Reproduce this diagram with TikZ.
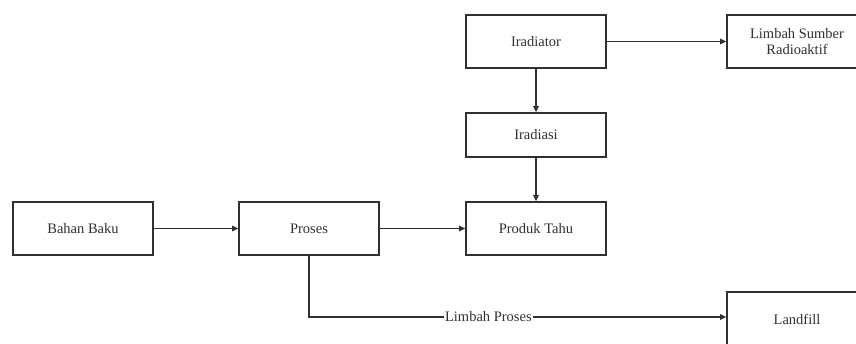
\documentclass[tikz,border=0pt]{standalone}
\usepackage{fontspec}
\setmainfont{Liberation Serif}
\usetikzlibrary{arrows.meta}
\definecolor{ink}{HTML}{303030}
\begin{document}
\begin{tikzpicture}[x=1pt,y=-1pt,
  box/.style={draw=ink,line width=1.7pt,minimum width=140pt,minimum height=53pt,inner sep=2pt,align=center,font=\fontsize{14.5}{15.5}\selectfont,text=ink},
  conn/.style={draw=ink,line width=1.5pt,-{Triangle[length=6pt,width=5.5pt]}}]
\clip (0,0) rectangle (856,343);
\fill[white] (0,0) rectangle (856,343);
\node[box] (irad) at (536,41.5) {Iradiator};
\node[box] (lsr) at (797,41.5) {Limbah Sumber\\Radioaktif};
\node[box,minimum height=44pt] (iras) at (536,135) {Iradiasi};
\node[box] (bahan) at (83,228.5) {Bahan Baku};
\node[box] (proses) at (309,228.5) {Proses};
\node[box] (produk) at (536,228.5) {Produk Tahu};
\node[box,minimum height=56pt,anchor=north] (land) at (797,291) {Landfill};
\coordinate (corner) at (proses.south |- 0,317);
\draw[conn] (irad) -- (lsr);
\draw[conn] (irad) -- (iras);
\draw[conn] (iras) -- (produk);
\draw[conn] (bahan) -- (proses);
\draw[conn] (proses) -- (produk);
\draw[conn] (proses.south) -- (corner) -- node[pos=0.43,fill=white,inner sep=1pt,font=\fontsize{14.5}{15.5}\selectfont,text=ink]{Limbah Proses} (corner -| land.west);
\end{tikzpicture}
\end{document}
